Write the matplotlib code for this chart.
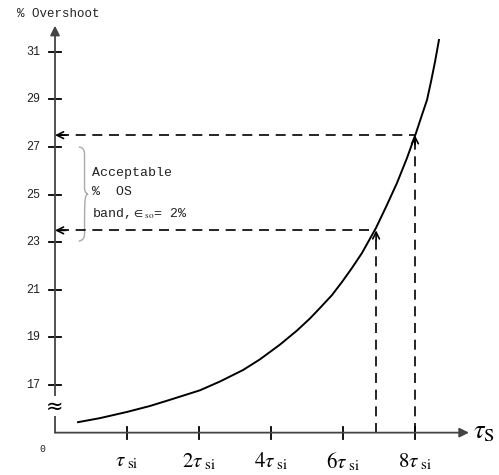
import numpy as np
import matplotlib
matplotlib.use("Agg")
from matplotlib import pyplot as plt
from matplotlib.path import Path
from matplotlib.patches import PathPatch

plt.rcParams['mathtext.fontset'] = 'stix'

# curve (x in tau_si tick units, y in % overshoot)
tau_pos = [0.32, 0.625, 1.0, 1.319, 1.597, 2.014, 2.292, 2.611, 2.847, 3.125, 3.361, 3.542,
           3.681, 3.847, 3.986, 4.125, 4.264, 4.458, 4.597, 4.75, 4.889, 5.014, 5.097,
           5.167, 5.222, 5.278, 5.333]
overshoot = [15.44, 15.61, 15.87, 16.12, 16.38, 16.78, 17.15, 17.63, 18.08, 18.7, 19.29, 19.8,
             20.24, 20.78, 21.33, 21.92, 22.55, 23.6, 24.48, 25.49, 26.54, 27.59, 28.35,
             28.98, 29.74, 30.58, 31.5]

y_ticks = [17, 19, 21, 23, 25, 27, 29, 31]
x_ticks = [1, 2, 3, 4, 5]
x_labels = [r'$\tau_{\ \mathrm{si}}$', r'$2\tau_{\ \mathrm{si}}$', r'$4\tau_{\ \mathrm{si}}$',
            r'$6\tau_{\ \mathrm{si}}$', r'$8\tau_{\ \mathrm{si}}$']
band = [23.5, 27.5]
band_x = [4.46, 5.0]

y0 = 15.0  # where the x axis sits (broken axis below 17)
axis_col = '#444444'
mono = 'Liberation Mono'

fig = plt.figure(figsize=(4.99, 4.75), dpi=100)
ax = fig.add_axes([0, 0, 1, 1])
ax.set_xlim(-0.764, 6.167)
ax.set_ylim(13.22, 33.18)
ax.axis('off')

# axes with arrows
ax.annotate('', xy=(0, 32.1), xytext=(0, y0),
            arrowprops=dict(arrowstyle='-|>', color=axis_col, lw=1.3, mutation_scale=14,
                            shrinkA=0, shrinkB=0))
ax.annotate('', xy=(5.75, y0), xytext=(0, y0),
            arrowprops=dict(arrowstyle='-|>', color=axis_col, lw=1.3, mutation_scale=14,
                            shrinkA=0, shrinkB=0))

# ticks
for v in y_ticks:
    ax.plot([-0.09, 0.09], [v, v], color='black', lw=1.3)
    ax.text(-0.2, v, str(v), ha='right', va='center', fontsize=8.5, family=mono, color='#222222')
for p, lab in zip(x_ticks, x_labels):
    ax.plot([p, p], [y0 - 0.25, y0 + 0.25], color='black', lw=1.3)
    ax.text(p, y0 - 1.2, lab, ha='center', va='center', fontsize=15)

ax.text(-0.17, y0 - 0.7, '0', ha='center', va='center', fontsize=7, family=mono, color='#222222')
ax.text(0, 16.1, '≈', ha='center', va='center', fontsize=15, color='black',
        bbox=dict(facecolor='white', edgecolor='none', pad=0.0))
ax.text(5.8, y0 + 0.05, r'$\tau_{\mathrm{S}}$', ha='left', va='center', fontsize=19)
ax.text(-0.53, 32.6, '% Overshoot', ha='left', va='center', fontsize=9, family=mono, color='#222222')

# curve
ax.plot(tau_pos, overshoot, color='black', lw=1.4)

# dashed guide lines with open arrowheads
for b, bx in zip(band, band_x):
    ax.plot([0.05, bx], [b, b], color='black', lw=1.2, dashes=(6, 4))
    ax.plot([bx, bx], [y0, b - 0.1], color='black', lw=1.2, dashes=(6, 4))
    ax.annotate('', xy=(0, b), xytext=(0.15, b),
                arrowprops=dict(arrowstyle='->', color='black', lw=1.2, mutation_scale=12,
                                shrinkA=0, shrinkB=0))
    ax.annotate('', xy=(bx, b), xytext=(bx, b - 0.4),
                arrowprops=dict(arrowstyle='->', color='black', lw=1.2, mutation_scale=12,
                                shrinkA=0, shrinkB=0))

# curly brace for the acceptable band
top, bot = 27.0, 23.05
mid = (top + bot) / 2
xl, xc, xt = 0.33, 0.41, 0.46
verts = [(xl, top), (xc, top), (xc, top - 0.3),
         (xc, mid + 0.3),
         (xc, mid), (xt, mid), (xt, mid),
         (xt, mid), (xc, mid), (xc, mid - 0.3),
         (xc, bot + 0.3),
         (xc, bot), (xl, bot), (xl, bot)]
codes = [Path.MOVETO, Path.CURVE3, Path.CURVE3,
         Path.LINETO,
         Path.CURVE4, Path.CURVE4, Path.CURVE4,
         Path.MOVETO, Path.CURVE4, Path.CURVE4,
         Path.LINETO,
         Path.CURVE4, Path.CURVE4, Path.CURVE4]
ax.add_patch(PathPatch(Path(verts, codes), facecolor='none', edgecolor='#aaaaaa', lw=1.0))

ax.text(0.52, 25.9, 'Acceptable', ha='left', va='center', fontsize=9.5, family=mono, color='#222222')
ax.text(0.52, 25.1, '%  OS', ha='left', va='center', fontsize=9.5, family=mono, color='#222222')
ax.text(0.52, 24.2, r'band,$\in_{\mathrm{so}}$= 2%', ha='left', va='center', fontsize=9.5,
        family=mono, color='#222222')

fig.savefig('out.png', dpi=100)
